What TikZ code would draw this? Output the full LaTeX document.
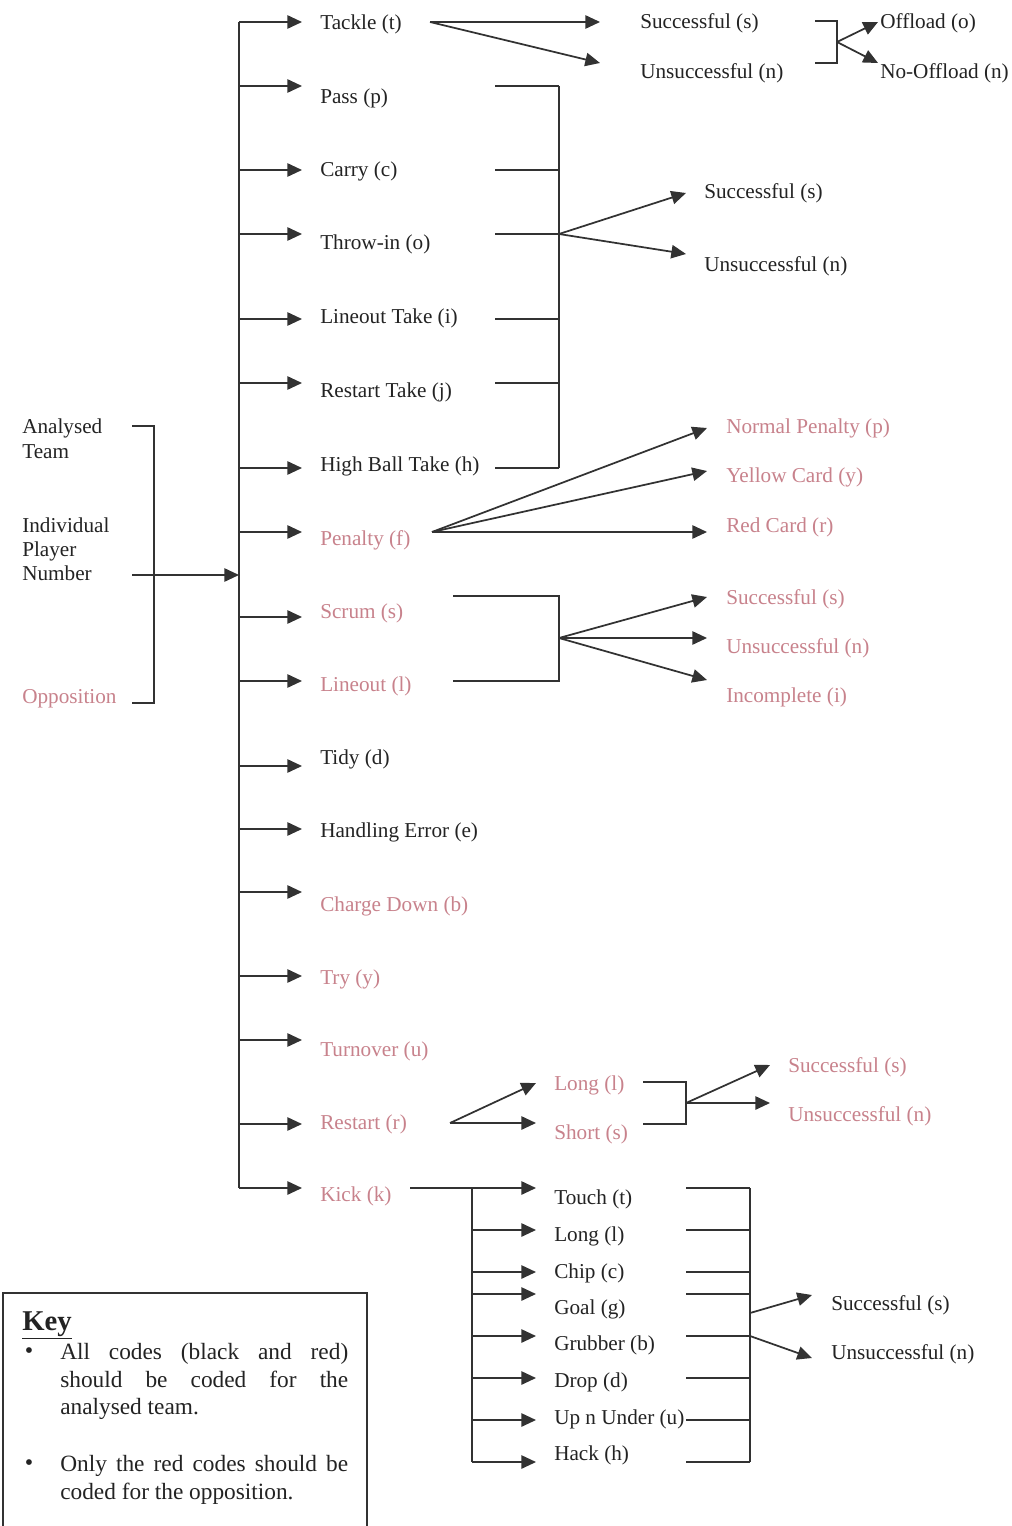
\documentclass[tikz,border=0pt]{standalone}
\usepackage{fontspec}
\setmainfont{Liberation Serif}
\usetikzlibrary{arrows.meta}
\definecolor{ink}{RGB}{35,35,35}
\definecolor{pinkred}{RGB}{200,130,140}
\definecolor{linec}{RGB}{50,50,50}
\begin{document}
\begin{tikzpicture}[x=0.75pt,y=-0.75pt,
  lbl/.style={anchor=base west,inner sep=0pt,font=\fontsize{15.9}{19}\selectfont,text=ink},
  rlbl/.style={lbl,text=pinkred},
  ln/.style={draw=linec,line width=1.3pt},
  arr/.style={ln,-{Triangle[length=11pt,width=10pt]}},
  keytxt/.style={anchor=base west,inner sep=0pt,font=\fontsize{17.5}{21}\selectfont,text=ink}]
\useasboundingbox[fill=white] (0,0) rectangle (1011,1526);

% ---------- main column ----------
\foreach \n/\ya/\yt/\t/\cl in {
  tackle/22/30/{Tackle (t)}/ink,
  pass/86/104/{Pass (p)}/ink,
  carry/170/177/{Carry (c)}/ink,
  throw/234/250/{Throw-in (o)}/ink,
  lotake/319/324/{Lineout Take (i)}/ink,
  rstake/383/397/{Restart Take (j)}/ink,
  hbt/468/471/{High Ball Take (h)}/ink,
  pen/532/545/{Penalty (f)}/pinkred,
  scrum/617/618/{Scrum (s)}/pinkred,
  lineout/681/691/{Lineout (l)}/pinkred,
  tidy/766/764/{Tidy (d)}/ink,
  he/829/837/{Handling Error (e)}/ink,
  cd/892/911/{Charge Down (b)}/pinkred,
  try/976/984/{Try (y)}/pinkred,
  turn/1040/1056/{Turnover (u)}/pinkred,
  restart/1124/1129/{Restart (r)}/pinkred,
  kick/1188/1201/{Kick (k)}/pinkred}
{
  \coordinate (sp-\n) at (239,\ya);
  \coordinate (tip-\n) at (302,\ya);
  \node[lbl,text=\cl] (\n) at (320,\yt) {\t};
  \draw[arr] (sp-\n) -- (tip-\n);
}
\draw[ln] (sp-tackle) -- (sp-kick);

% ---------- left side ----------
\node[lbl] (an1) at (22,433) {Analysed};
\node[lbl] (an2) at (22,458) {Team};
\node[lbl] (ind1) at (22,532) {Individual};
\node[lbl] (ind2) at (22,556) {Player};
\node[lbl] (ind3) at (22,580) {Number};
\node[rlbl] (opp) at (22,703) {Opposition};
\coordinate (lb1) at (132,426);
\coordinate (lb2) at (154,426);
\coordinate (lb3) at (154,703);
\coordinate (lb4) at (132,703);
\draw[ln] (lb1) -- (lb2) -- (lb3) -- (lb4);
\coordinate (in0) at (132,575);
\coordinate (in1) at (239,575);
\draw[arr] (in0) -- (in1);

% ---------- tackle ----------
\node[lbl] (tks) at (640,29) {Successful (s)};
\node[lbl] (tku) at (640,79) {Unsuccessful (n)};
\coordinate (tk0) at (430,22);
\coordinate (tk1) at (600,22);
\coordinate (tk2) at (600,63);
\draw[arr] (tk0) -- (tk1);
\draw[arr] (tk0) -- (tk2);
\node[lbl] (off) at (880,29) {Offload (o)};
\node[lbl] (noff) at (880,79) {No-Offload (n)};
\coordinate (ob1) at (815,21);
\coordinate (ob2) at (837,21);
\coordinate (ob3) at (837,63);
\coordinate (ob4) at (815,63);
\coordinate (ob0) at (837,42);
\coordinate (obt1) at (878,22);
\coordinate (obt2) at (878,63);
\draw[ln] (ob1) -- (ob2) -- (ob3) -- (ob4);
\draw[arr] (ob0) -- (obt1);
\draw[arr] (ob0) -- (obt2);

% ---------- pass ... high ball bracket ----------
\foreach \n/\y in {pass/86,carry/170,throw/234,lotake/319,rstake/383,hbt/468}
{
  \coordinate (pb-\n) at (495,\y);
  \coordinate (pv-\n) at (559,\y);
  \draw[ln] (pb-\n) -- (pv-\n);
}
\draw[ln] (pv-pass) -- (pv-hbt);
\node[lbl] (ps) at (704,199) {Successful (s)};
\node[lbl] (pu) at (704,272) {Unsuccessful (n)};
\coordinate (pst) at (686,193);
\coordinate (put) at (686,254);
\draw[arr] (pv-throw) -- (pst);
\draw[arr] (pv-throw) -- (put);

% ---------- penalty ----------
\node[rlbl] (np) at (726,433) {Normal Penalty (p)};
\node[rlbl] (yc) at (726,482) {Yellow Card (y)};
\node[rlbl] (rc) at (726,532) {Red Card (r)};
\coordinate (pe0) at (432,532);
\coordinate (pe1) at (707,428);
\coordinate (pe2) at (707,471);
\coordinate (pe3) at (707,532);
\draw[arr] (pe0) -- (pe1);
\draw[arr] (pe0) -- (pe2);
\draw[arr] (pe0) -- (pe3);

% ---------- scrum / lineout ----------
\coordinate (sb1) at (453,596);
\coordinate (sb2) at (559,596);
\coordinate (sb3) at (559,681);
\coordinate (sb4) at (453,681);
\coordinate (sb0) at (559,638);
\draw[ln] (sb1) -- (sb2) -- (sb3) -- (sb4);
\node[rlbl] (ss) at (726,604) {Successful (s)};
\node[rlbl] (su) at (726,653) {Unsuccessful (n)};
\node[rlbl] (si) at (726,702) {Incomplete (i)};
\coordinate (st1) at (707,597);
\coordinate (st2) at (707,638);
\coordinate (st3) at (707,680);
\draw[arr] (sb0) -- (st1);
\draw[arr] (sb0) -- (st2);
\draw[arr] (sb0) -- (st3);

% ---------- restart ----------
\node[rlbl] (rl) at (554,1090) {Long (l)};
\node[rlbl] (rs) at (554,1139) {Short (s)};
\coordinate (r0) at (450,1123);
\coordinate (rt1) at (536,1083);
\coordinate (rt2) at (536,1123);
\draw[arr] (r0) -- (rt1);
\draw[arr] (r0) -- (rt2);
\coordinate (rb1) at (643,1082);
\coordinate (rb2) at (686,1082);
\coordinate (rb3) at (686,1124);
\coordinate (rb4) at (643,1124);
\coordinate (rb0) at (686,1103);
\draw[ln] (rb1) -- (rb2) -- (rb3) -- (rb4);
\node[rlbl] (rss) at (788,1072) {Successful (s)};
\node[rlbl] (rsu) at (788,1121) {Unsuccessful (n)};
\coordinate (rst1) at (770,1065);
\coordinate (rst2) at (770,1103);
\draw[arr] (rb0) -- (rst1);
\draw[arr] (rb0) -- (rst2);

% ---------- kick ----------
\coordinate (k0) at (410,1188);
\foreach \n/\ya/\yt/\t in {
  touch/1188/1204/{Touch (t)},
  klong/1230/1241/{Long (l)},
  chip/1272/1278/{Chip (c)},
  goal/1294/1314/{Goal (g)},
  grub/1336/1350/{Grubber (b)},
  drop/1378/1387/{Drop (d)},
  upn/1420/1424/{Up n Under (u)},
  hack/1462/1460/{Hack (h)}}
{
  \coordinate (kb-\n) at (472,\ya);
  \coordinate (kt-\n) at (536,\ya);
  \node[lbl] (\n) at (554,\yt) {\t};
  \draw[arr] (kb-\n) -- (kt-\n);
  \coordinate (kr-\n) at (686,\ya);
  \coordinate (kv-\n) at (750,\ya);
  \draw[ln] (kr-\n) -- (kv-\n);
}
\draw[ln] (k0) -- (kb-touch);
\draw[ln] (kb-touch) -- (kb-hack);
\draw[ln] (kv-touch) -- (kv-hack);
\node[lbl] (kss) at (831,1310) {Successful (s)};
\node[lbl] (ksu) at (831,1359) {Unsuccessful (n)};
\coordinate (kbr) at (750,1313);
\coordinate (kst1) at (812,1295);
\coordinate (kst2) at (812,1358);
\draw[arr] (kbr) -- (kst1);
\draw[arr] (kv-grub) -- (kst2);

% ---------- key ----------
\coordinate (kx1) at (3,1530);
\coordinate (kx2) at (3,1293);
\coordinate (kx3) at (367,1293);
\coordinate (kx4) at (367,1530);
\draw[draw=linec,line width=0.8pt] (kx1) -- (kx2) -- (kx3) -- (kx4);
\node[anchor=base west,inner sep=0pt,font=\fontsize{21.5}{24}\selectfont\bfseries,text=ink] (keyttl) at (22,1330) {\underline{Key}};
\node[anchor=center,inner sep=0pt,font=\fontsize{18}{20}\selectfont,text=ink] (bul1) at (29,1353) {\textbullet};
\node[anchor=center,inner sep=0pt,font=\fontsize{18}{20}\selectfont,text=ink] (bul2) at (29,1465) {\textbullet};
\node[keytxt] (kl1) at (60,1359) {\makebox[216pt][s]{All codes (black and red)}};
\node[keytxt] (kl2) at (60,1387) {\makebox[216pt][s]{should be coded for the}};
\node[keytxt] (kl3) at (60,1414) {analysed team.};
\node[keytxt] (kl4) at (60,1471) {\makebox[216pt][s]{Only the red codes should be}};
\node[keytxt] (kl5) at (60,1499) {coded for the opposition.};
\end{tikzpicture}
\end{document}
